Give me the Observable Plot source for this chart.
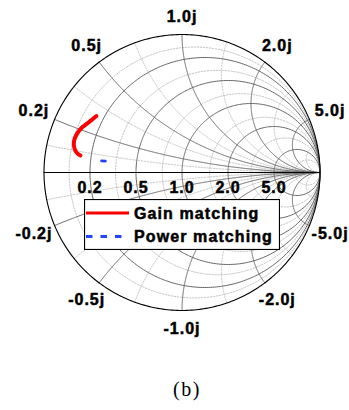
<!DOCTYPE html>
<html>
<head>
<meta charset="utf-8">
<script src="https://cdn.jsdelivr.net/npm/d3@7"></script>
<script src="https://cdn.jsdelivr.net/npm/@observablehq/plot@0.6"></script>
<style>
  html, body { margin: 0; padding: 0; background: #fff; }
  #wrap { position: relative; width: 349px; height: 410px; overflow: hidden; }
  #legend { position: absolute; left: 84px; top: 199px; }
  #caption { position: absolute; left: 187px; top: 377px; transform: translateX(-50%);
    font-family: "Liberation Serif", "Times New Roman", serif; font-size: 20px; line-height: 24px; letter-spacing: 1.5px; }
</style>
</head>
<body>
<div id="wrap"></div>
<script>
// ---- Chart data ----
// Smith chart grid values (normalized impedance)
const resistanceMajor = [0.2, 0.5, 1, 2, 5];
const reactanceMajor = [0.2, 0.5, 1, 2, 5];
const resistanceMinor = [0.1, 0.35, 0.75, 1.5, 3, 10];
const reactanceMinor = [0.1, 0.35, 0.7, 1.4, 3, 10];
const resistanceLabels = ["0.2", "0.5", "1.0", "2.0", "5.0"];
const reactanceLabelsPos = ["0.2j", "0.5j", "1.0j", "2.0j", "5.0j"];
const reactanceLabelsNeg = ["-0.2j", "-0.5j", "-1.0j", "-2.0j", "-5.0j"];
// Gain matching trajectory (reflection coefficient, real / imaginary)
const gainRe = [-0.620, -0.678, -0.736, -0.768, -0.783, -0.779, -0.761, -0.736];
const gainIm = [0.409, 0.362, 0.315, 0.268, 0.225, 0.174, 0.141, 0.123];
// Power matching (reflection coefficient, real / imaginary)
const powerRe = [-0.583, -0.555];
const powerIm = [0.084, 0.082];
const seriesNames = ["Gain matching", "Power matching"];
const seriesColors = ["#ff0000", "#2244ff"];

// ---- helpers ----
function gamma(r, x) {
  const d = (r + 1) * (r + 1) + x * x;
  return { re: (r * r + x * x - 1) / d, im: 2 * x / d };
}
const N = 360;
function resistanceCircle(r, id) {
  const pts = [];
  for (let i = 0; i <= N; i++) {
    const phi = -Math.PI / 2 + Math.PI * i / N;
    const x = i === 0 ? -1e9 : i === N ? 1e9 : Math.tan(phi);
    pts.push({ ...gamma(r, x), id });
  }
  return pts;
}
function reactanceArc(x, id) {
  const pts = [];
  for (let i = 0; i <= N; i++) {
    const phi = (Math.PI / 2) * i / N;
    const r = i === N ? 1e9 : Math.tan(phi);
    pts.push({ ...gamma(r, x), id });
  }
  return pts;
}
function gridLines(rs, xs, tag) {
  const out = [];
  rs.forEach((r, i) => out.push(...resistanceCircle(r, tag + "r" + i)));
  xs.forEach((x, i) => {
    out.push(...reactanceArc(x, tag + "xp" + i));
    out.push(...reactanceArc(-x, tag + "xn" + i));
  });
  return out;
}
const minorGrid = gridLines(resistanceMinor, reactanceMinor, "m");
const majorGrid = gridLines(resistanceMajor, reactanceMajor, "M");
const outer = resistanceCircle(0, "outer");
const axis = [{ re: -1, im: 0 }, { re: 1, im: 0 }];

const reactLabelData = [];
reactanceMajor.forEach((x, i) => {
  [[x, reactanceLabelsPos[i]], [-x, reactanceLabelsNeg[i]]].forEach(([v, t]) => {
    const g = gamma(0, v);
    const th = Math.atan2(g.im, g.re);
    const k = 1.13 + 0.035 * Math.abs(Math.cos(th));
    reactLabelData.push({ re: g.re * k, im: g.im * k, text: t });
  });
});
const resLabelData = resistanceMajor.map((r, i) => ({ re: gamma(r, 0).re, im: 0, text: resistanceLabels[i] }));

const gain = gainRe.map((re, i) => ({ re, im: gainIm[i] }));
const power = powerRe.map((re, i) => ({ re, im: powerIm[i] }));

const font = "'Liberation Sans', Arial, sans-serif";
const textStyle = { fontSize: 16, fontWeight: "bold", fill: "#000", stroke: "#000", strokeWidth: 0.5, textAnchor: "middle" };

const chart = Plot.plot({
  width: 349,
  height: 350,
  marginLeft: 43.5,
  marginRight: 29.5,
  marginTop: 34,
  marginBottom: 40,
  x: { domain: [-1, 1], axis: null },
  y: { domain: [-1, 1], axis: null },
  style: { fontFamily: font, letterSpacing: "1px", background: "white" },
  marks: [
    Plot.line(minorGrid, { x: "re", y: "im", z: "id", stroke: "#bdbdbd", strokeWidth: 0.9, strokeDasharray: "1.5,1.5" }),
    Plot.line(majorGrid, { x: "re", y: "im", z: "id", stroke: "#666", strokeWidth: 1 }),
    Plot.line(axis, { x: "re", y: "im", stroke: "#000", strokeWidth: 1 }),
    Plot.line(outer, { x: "re", y: "im", stroke: "#000", strokeWidth: 1.1 }),
    Plot.line(gain, { x: "re", y: "im", stroke: seriesColors[0], strokeWidth: 4, strokeLinecap: "round", curve: "catmull-rom" }),
    Plot.line(power, { x: "re", y: "im", stroke: seriesColors[1], strokeWidth: 2.8, strokeDasharray: "6.5,8" }),
    Plot.text(reactLabelData, { x: "re", y: "im", text: "text", ...textStyle }),
    Plot.text(resLabelData, { x: "re", y: "im", text: "text", dy: 15, ...textStyle })
  ]
});
const wrap = document.getElementById("wrap");
wrap.appendChild(chart);

// Legend (overlay inside chart area)
const legend = document.createElement("div");
legend.id = "legend";
legend.innerHTML = `
<svg width="196" height="51" style="display:block">
  <rect x="0.5" y="0.5" width="195" height="50" fill="#fff" stroke="#000" stroke-width="1.2"></rect>
  <line x1="2" x2="45" y1="14" y2="14" stroke="${seriesColors[0]}" stroke-width="3"></line>
  <line x1="2" x2="38" y1="37.5" y2="37.5" stroke="${seriesColors[1]}" stroke-width="3" stroke-dasharray="6.5,8"></line>
  <g font-family="${font}" font-size="16" font-weight="bold" letter-spacing="1.1" fill="#000" stroke="#000" stroke-width="0.5">
    <text x="50" y="20.3">${seriesNames[0]}</text>
    <text x="50" y="43">${seriesNames[1]}</text>
  </g>
</svg>`;
wrap.appendChild(legend);

const cap = document.createElement("div");
cap.id = "caption";
cap.textContent = "(b)";
wrap.appendChild(cap);
</script>
</body>
</html>
